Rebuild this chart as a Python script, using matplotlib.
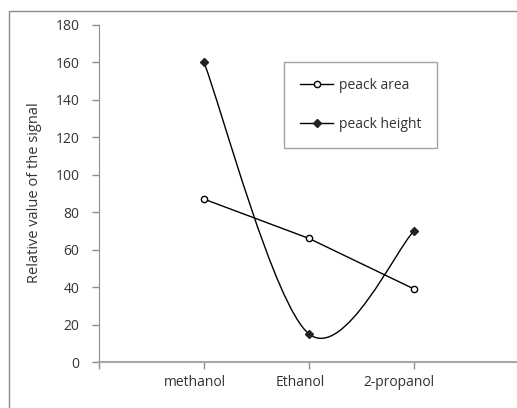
import numpy as np
import matplotlib
matplotlib.use('Agg')
import matplotlib.pyplot as plt
from matplotlib.path import Path
from matplotlib.patches import PathPatch, Rectangle
from matplotlib.lines import Line2D
from matplotlib.transforms import ScaledTranslation, blended_transform_factory

plt.rcParams['font.family'] = ['Open Sans', 'DejaVu Sans']

categories = ['methanol', 'Ethanol', '2-propanol']
peak_area = [87, 66, 39]
peak_height = [160, 15, 70]
y_ticks = [0, 20, 40, 60, 80, 100, 120, 140, 160, 180]

W, H = 517, 408
fs = 10
fig = plt.figure(figsize=(W / 100, H / 100), dpi=100)
ax = fig.add_axes([99 / W, (H - 362) / H, 420 / W, 337 / H])

x = np.arange(1, len(categories) + 1)

# straight line for peak area
ax.plot(x, peak_area, color='black', lw=1, marker='o', ms=4.5,
        mfc='white', mec='black', mew=1, zorder=3)

# smoothed line for peak height (Excel-like bezier smoothing)
pts = np.column_stack([x, peak_height]).astype(float)
verts = [pts[0]]
codes = [Path.MOVETO]
n = len(pts)
for i in range(n - 1):
    p0 = pts[max(i - 1, 0)]
    p1 = pts[i]
    p2 = pts[i + 1]
    p3 = pts[min(i + 2, n - 1)]
    c1 = p1 + (p2 - p0) / 6
    c2 = p2 - (p3 - p1) / 6
    verts += [c1, c2, p2]
    codes += [Path.CURVE4] * 3
ax.add_patch(PathPatch(Path(verts, codes), fill=False, edgecolor='black', lw=1, zorder=3))
ax.plot(x, peak_height, ls='none', marker='D', ms=4, color='#222222', zorder=4)

ax.set_xlim(0, 4)
ax.set_ylim(0, 180)
ax.set_yticks(y_ticks)
ax.set_xticks([0, 1, 2, 3])
ax.set_xticklabels([])

gray = '#8c8c8c'
for s in ['top', 'right']:
    ax.spines[s].set_visible(False)
ax.spines['left'].set_color(gray)
ax.spines['bottom'].set_color('#a6a6a6')
ax.spines['bottom'].set_linewidth(1.5)
ax.tick_params(axis='both', colors=gray, length=5, width=1, direction='out',
               labelsize=fs, labelcolor='#333333')
ax.tick_params(axis='y', pad=9)

# category labels below the axis
trans = blended_transform_factory(ax.transData, ax.transAxes)
shifts = [-9, -9, -15]
for xi, lab, sh in zip(x, categories, shifts):
    ax.text(xi, 0, lab, transform=trans + ScaledTranslation(sh / 100, -20 / 100, fig.dpi_scale_trans),
            ha='center', va='center', fontsize=fs, color='#333333')

fig.text(35 / W, 1 - 193 / H, 'Relative value of the signal', rotation=90,
         ha='center', va='center', fontsize=10.5, color='#333333')

handles = [
    Line2D([], [], color='black', lw=1, marker='o', ms=4.5, mfc='white', mec='black'),
    Line2D([], [], color='black', lw=1, marker='D', ms=4, mfc='#222222', mec='#222222'),
]
leg = fig.legend(handles, ['peack area', 'peack height'], loc='upper left',
                 bbox_to_anchor=(284 / W, 1 - 62 / H), fontsize=fs, frameon=True,
                 fancybox=False, edgecolor=gray, handlelength=2.4, labelspacing=1.7,
                 borderpad=1.15, handletextpad=0.4, borderaxespad=0)
leg.get_frame().set_linewidth(1)
for t in leg.get_texts():
    t.set_color('#333333')

# outer chart frame
fig.patches.append(Rectangle((9 / W, -0.1), 1.2, 1 - 11 / H + 0.1, transform=fig.transFigure,
                             fill=False, edgecolor=gray, lw=1))

fig.savefig('out.png', dpi=100)
